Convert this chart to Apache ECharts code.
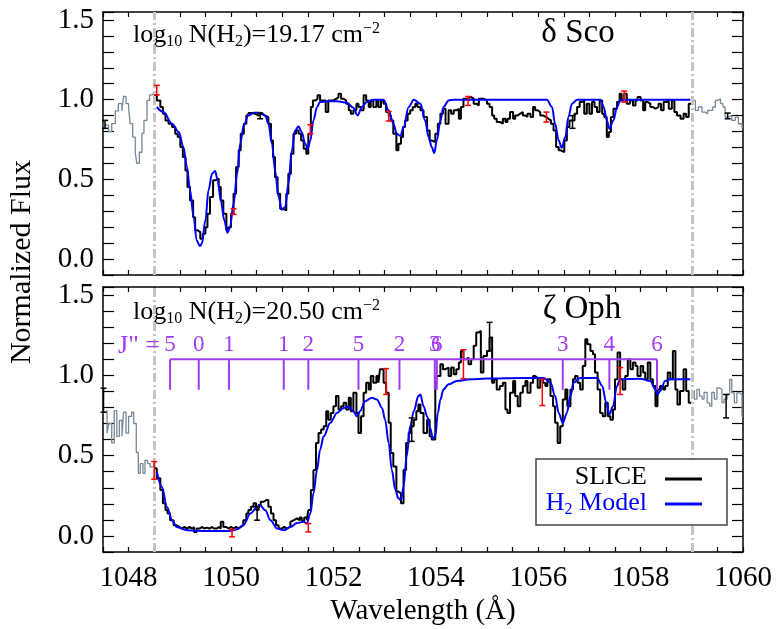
<!DOCTYPE html>
<html><head><meta charset="utf-8">
<script src="https://cdn.jsdelivr.net/npm/echarts@6/dist/echarts.min.js"></script>
<style>html,body{margin:0;padding:0;background:#fff}#c{width:776px;height:629px}</style>
</head><body><div id="c"></div>
<script>
const FONT = '"Liberation Serif","Times New Roman",serif';
// axis ranges and tick labels
const xMin = 1047.5, xMax = 1060, xStep = 0.5;
const yMin = -0.1, yMax = 1.55, yStep = 0.1;
const xTickLabels = [1048, 1050, 1052, 1054, 1056, 1058, 1060];
const yTickLabels = [0.0, 0.5, 1.0, 1.5];
const fitLimits = [1048.5, 1059.0];

// ---------- delta Sco (top) ----------
// histogram bins: [left edge wavelength, flux]; last bin ends at given edge
const topGrayLeft = [[1047.50,0.84],[1047.61,0.80],[1047.67,0.85],[1047.74,0.93],[1047.80,0.975],[1047.87,0.93],[1047.90,1.02],[1047.95,0.975],[1048.00,0.95],[1048.03,0.85],[1048.08,0.765],[1048.13,0.67],[1048.16,0.60],[1048.21,0.67],[1048.26,0.79],[1048.30,0.87],[1048.36,0.995],[1048.41,1.03],[1048.46,1.04]];
const topGrayLeftEnd = 1048.50;
const topSlice = [[1048.50,1.03],[1048.55,0.995],[1048.62,0.954],[1048.67,0.912],[1048.72,0.87],[1048.78,0.849],[1048.85,0.828],[1048.91,0.786],[1048.96,0.765],[1049.01,0.703],[1049.06,0.64],[1049.11,0.556],[1049.15,0.452],[1049.20,0.368],[1049.26,0.263],[1049.30,0.18],[1049.35,0.169],[1049.40,0.128],[1049.45,0.159],[1049.50,0.20],[1049.54,0.284],[1049.59,0.389],[1049.65,0.494],[1049.69,0.504],[1049.76,0.452],[1049.80,0.368],[1049.85,0.284],[1049.91,0.18],[1049.95,0.20],[1050.00,0.284],[1050.05,0.41],[1050.10,0.577],[1050.15,0.682],[1050.19,0.786],[1050.25,0.849],[1050.30,0.90],[1050.34,0.916],[1050.41,0.912],[1050.47,0.90],[1050.54,0.912],[1050.60,0.90],[1050.67,0.891],[1050.73,0.849],[1050.78,0.744],[1050.82,0.64],[1050.86,0.514],[1050.91,0.41],[1050.96,0.316],[1051.01,0.305],[1051.08,0.41],[1051.12,0.535],[1051.17,0.661],[1051.22,0.786],[1051.27,0.807],[1051.32,0.786],[1051.37,0.744],[1051.42,0.692],[1051.47,0.661],[1051.51,0.786],[1051.56,0.954],[1051.60,0.995],[1051.65,1.006],[1051.69,1.027],[1051.74,0.995],[1051.79,0.995],[1051.85,0.922],[1051.90,0.995],[1051.95,0.995],[1052.00,1.006],[1052.06,1.016],[1052.10,1.037],[1052.15,1.006],[1052.20,0.995],[1052.25,0.975],[1052.30,0.933],[1052.34,0.912],[1052.39,0.933],[1052.45,0.975],[1052.49,0.954],[1052.54,0.933],[1052.59,1.027],[1052.64,0.995],[1052.69,0.954],[1052.73,0.995],[1052.78,0.954],[1052.84,0.995],[1052.88,0.954],[1052.93,0.995],[1052.98,0.975],[1053.03,0.922],[1053.08,0.901],[1053.12,0.87],[1053.17,0.786],[1053.23,0.682],[1053.27,0.724],[1053.32,0.765],[1053.36,0.828],[1053.40,0.87],[1053.45,0.912],[1053.50,0.933],[1053.55,0.954],[1053.60,0.975],[1053.64,0.954],[1053.70,0.933],[1053.76,0.891],[1053.83,0.807],[1053.88,0.744],[1053.92,0.734],[1053.99,0.786],[1054.04,0.849],[1054.09,0.912],[1054.14,0.943],[1054.19,0.849],[1054.25,0.933],[1054.30,0.912],[1054.35,0.933],[1054.40,0.943],[1054.45,0.88],[1054.49,0.954],[1054.54,1.006],[1054.60,0.995],[1054.64,1.016],[1054.69,1.006],[1054.74,0.975],[1054.79,0.964],[1054.84,1.006],[1054.88,1.006],[1054.93,0.995],[1055.00,0.975],[1055.05,0.954],[1055.10,0.901],[1055.14,0.88],[1055.19,0.86],[1055.25,0.849],[1055.31,0.88],[1055.36,0.86],[1055.40,0.88],[1055.45,0.922],[1055.51,0.88],[1055.55,0.901],[1055.60,0.912],[1055.65,0.922],[1055.70,0.901],[1055.75,0.891],[1055.79,0.912],[1055.85,0.891],[1055.90,0.954],[1055.94,0.933],[1055.99,0.922],[1056.04,0.901],[1056.09,0.891],[1056.16,0.88],[1056.20,0.87],[1056.25,0.849],[1056.30,0.807],[1056.35,0.703],[1056.40,0.682],[1056.44,0.671],[1056.51,0.744],[1056.56,0.828],[1056.61,0.87],[1056.66,0.87],[1056.71,0.912],[1056.76,0.954],[1056.81,0.985],[1056.86,0.995],[1056.90,0.912],[1056.95,0.975],[1057.00,0.912],[1057.05,0.985],[1057.10,0.954],[1057.15,0.922],[1057.20,0.995],[1057.25,0.912],[1057.29,0.891],[1057.34,0.765],[1057.38,0.797],[1057.42,0.891],[1057.47,0.943],[1057.54,0.985],[1057.59,1.037],[1057.63,0.995],[1057.68,1.037],[1057.73,0.975],[1057.79,0.995],[1057.85,0.964],[1057.90,0.995],[1057.94,1.016],[1058.00,0.995],[1058.05,0.933],[1058.09,0.985],[1058.14,0.975],[1058.19,0.954],[1058.24,0.943],[1058.29,0.954],[1058.35,0.975],[1058.40,0.933],[1058.45,0.985],[1058.50,0.995],[1058.55,0.943],[1058.61,0.995],[1058.66,0.922],[1058.71,0.901],[1058.78,0.88],[1058.84,0.912],[1058.89,0.891],[1058.94,0.975]];
const topSliceEnd = 1059.00;
const topGrayRight = [[1059.00,0.995],[1059.07,0.933],[1059.13,0.954],[1059.20,0.922],[1059.26,0.912],[1059.31,0.933],[1059.36,0.933],[1059.41,0.954],[1059.46,0.995],[1059.51,1.006],[1059.56,0.975],[1059.61,0.954],[1059.65,0.891],[1059.72,0.901],[1059.78,0.87],[1059.85,0.891],[1059.91,0.849],[1059.98,0.828]];
const topGrayRightEnd = 1060.0;
const topModel = [[1048.55,0.954],[1048.68,0.922],[1048.85,0.849],[1048.98,0.797],[1049.07,0.703],[1049.14,0.577],[1049.20,0.431],[1049.27,0.263],[1049.33,0.117],[1049.39,0.082],[1049.43,0.096],[1049.50,0.243],[1049.56,0.431],[1049.63,0.535],[1049.69,0.552],[1049.74,0.494],[1049.80,0.368],[1049.87,0.243],[1049.93,0.165],[1049.98,0.20],[1050.05,0.347],[1050.12,0.535],[1050.18,0.724],[1050.25,0.839],[1050.34,0.90],[1050.44,0.918],[1050.57,0.918],[1050.67,0.90],[1050.73,0.849],[1050.80,0.724],[1050.86,0.556],[1050.93,0.389],[1050.99,0.309],[1051.06,0.326],[1051.12,0.473],[1051.19,0.682],[1051.25,0.807],[1051.32,0.832],[1051.38,0.797],[1051.45,0.724],[1051.50,0.692],[1051.55,0.744],[1051.61,0.87],[1051.68,0.954],[1051.74,0.985],[1051.87,0.99],[1052.07,0.99],[1052.26,0.98],[1052.39,0.95],[1052.47,0.901],[1052.56,0.954],[1052.65,0.985],[1052.78,1.0],[1052.98,1.0],[1053.08,0.933],[1053.17,0.849],[1053.24,0.786],[1053.31,0.772],[1053.37,0.828],[1053.47,0.954],[1053.57,1.0],[1053.70,0.975],[1053.79,0.87],[1053.86,0.765],[1053.92,0.703],[1053.97,0.665],[1054.02,0.744],[1054.09,0.87],[1054.15,0.954],[1054.25,0.995],[1054.35,1.0],[1056.17,1.0],[1056.27,0.954],[1056.33,0.849],[1056.40,0.744],[1056.46,0.698],[1056.53,0.765],[1056.59,0.891],[1056.66,0.975],[1056.76,1.0],[1057.21,1.0],[1057.28,0.954],[1057.34,0.87],[1057.39,0.818],[1057.47,0.87],[1057.54,0.954],[1057.60,0.995],[1057.73,1.0],[1058.97,1.0]];
const topRedErr = [[1048.55,1.03,1.09],[1050.05,0.28,0.316],[1051.55,0.786,0.843],[1053.08,0.866,0.926],[1054.63,0.964,1.02],[1056.16,0.86,0.922],[1057.68,0.985,1.054]];
const topBlackErr = [[1047.54,0.82,0.87],[1050.57,0.88,0.916],[1056.67,0.82,0.90],[1059.70,0.88,0.916]];

// ---------- zeta Oph (bottom) ----------
const botGrayLeft = [[1047.50,0.77],[1047.54,0.78],[1047.58,0.64],[1047.61,0.70],[1047.67,0.58],[1047.72,0.78],[1047.77,0.62],[1047.82,0.72],[1047.87,0.62],[1047.90,0.77],[1047.95,0.64],[1048.00,0.745],[1048.06,0.77],[1048.10,0.70],[1048.15,0.52],[1048.19,0.39],[1048.23,0.45],[1048.28,0.39],[1048.32,0.47],[1048.37,0.45],[1048.42,0.43]];
const botGrayLeftEnd = 1048.50;
const botSlice = [[1048.50,0.422],[1048.55,0.359],[1048.62,0.286],[1048.67,0.203],[1048.72,0.161],[1048.76,0.14],[1048.81,0.098],[1048.88,0.067],[1048.93,0.056],[1048.99,0.046],[1049.04,0.056],[1049.09,0.046],[1049.14,0.056],[1049.19,0.046],[1049.24,0.056],[1049.28,0.025],[1049.33,0.046],[1049.39,0.056],[1049.43,0.046],[1049.48,0.052],[1049.53,0.046],[1049.58,0.056],[1049.63,0.046],[1049.67,0.046],[1049.72,0.056],[1049.76,0.046],[1049.80,0.088],[1049.85,0.056],[1049.91,0.046],[1049.95,0.056],[1050.00,0.046],[1050.05,0.056],[1050.10,0.046],[1050.15,0.056],[1050.19,0.067],[1050.24,0.098],[1050.30,0.14],[1050.34,0.161],[1050.39,0.182],[1050.44,0.203],[1050.49,0.161],[1050.54,0.192],[1050.58,0.213],[1050.64,0.223],[1050.69,0.223],[1050.73,0.182],[1050.78,0.14],[1050.83,0.098],[1050.88,0.067],[1050.93,0.046],[1050.99,0.056],[1051.04,0.046],[1051.09,0.056],[1051.16,0.088],[1051.19,0.098],[1051.23,0.109],[1051.29,0.098],[1051.34,0.115],[1051.38,0.094],[1051.43,0.115],[1051.48,0.098],[1051.51,0.161],[1051.56,0.286],[1051.61,0.411],[1051.66,0.578],[1051.71,0.641],[1051.76,0.662],[1051.81,0.683],[1051.86,0.777],[1051.90,0.724],[1051.95,0.766],[1052.00,0.808],[1052.05,0.871],[1052.10,0.787],[1052.15,0.808],[1052.20,0.829],[1052.25,0.787],[1052.30,0.86],[1052.34,0.777],[1052.39,0.891],[1052.45,0.766],[1052.49,0.641],[1052.54,0.745],[1052.59,0.891],[1052.64,0.954],[1052.69,0.912],[1052.73,0.996],[1052.78,0.954],[1052.84,0.996],[1052.88,0.954],[1052.91,1.038],[1052.98,0.954],[1053.03,0.891],[1053.08,0.704],[1053.12,0.516],[1053.17,0.432],[1053.23,0.276],[1053.27,0.265],[1053.32,0.203],[1053.37,0.411],[1053.42,0.578],[1053.47,0.641],[1053.51,0.683],[1053.57,0.724],[1053.62,0.777],[1053.66,0.818],[1053.70,0.766],[1053.76,0.641],[1053.83,0.724],[1053.88,0.62],[1053.92,0.60],[1053.99,0.912],[1054.02,0.996],[1054.09,1.069],[1054.14,1.038],[1054.19,1.048],[1054.25,0.996],[1054.30,1.048],[1054.35,1.006],[1054.40,1.038],[1054.45,1.08],[1054.49,1.152],[1054.54,1.10],[1054.60,1.111],[1054.64,1.069],[1054.69,1.10],[1054.74,1.184],[1054.79,1.267],[1054.84,1.278],[1054.88,1.017],[1054.93,1.121],[1055.00,1.152],[1055.05,1.236],[1055.10,0.954],[1055.14,0.975],[1055.19,0.912],[1055.25,0.933],[1055.31,0.954],[1055.36,0.787],[1055.40,0.766],[1055.45,0.891],[1055.51,0.965],[1055.55,0.871],[1055.60,0.808],[1055.65,0.891],[1055.70,0.933],[1055.75,0.965],[1055.79,0.891],[1055.85,0.954],[1055.90,0.996],[1055.94,0.985],[1055.99,0.922],[1056.04,0.975],[1056.09,0.954],[1056.14,0.933],[1056.18,0.975],[1056.24,0.871],[1056.29,0.808],[1056.33,0.704],[1056.38,0.578],[1056.43,0.683],[1056.48,0.85],[1056.53,0.912],[1056.57,0.808],[1056.63,0.912],[1056.68,0.975],[1056.72,0.996],[1056.77,0.954],[1056.82,0.912],[1056.87,1.058],[1056.92,1.225],[1056.96,1.194],[1057.02,1.152],[1057.07,1.132],[1057.11,1.017],[1057.16,0.912],[1057.21,0.766],[1057.26,0.745],[1057.31,0.829],[1057.36,0.745],[1057.41,0.724],[1057.46,0.787],[1057.50,0.975],[1057.55,1.142],[1057.60,0.975],[1057.65,0.912],[1057.70,0.996],[1057.75,1.10],[1057.80,1.038],[1057.85,1.08],[1057.90,1.058],[1057.94,0.996],[1058.00,1.058],[1058.05,1.017],[1058.09,0.975],[1058.14,1.08],[1058.19,0.975],[1058.24,0.933],[1058.29,0.808],[1058.33,0.912],[1058.38,0.933],[1058.44,0.912],[1058.48,0.933],[1058.53,1.017],[1058.58,0.975],[1058.63,1.152],[1058.68,0.912],[1058.72,0.818],[1058.77,0.902],[1058.84,1.038],[1058.89,0.902],[1058.94,0.829]];
const botSliceEnd = 1059.00;
const botGrayRight = [[1059.00,0.902],[1059.05,0.852],[1059.10,0.912],[1059.15,0.87],[1059.20,0.852],[1059.24,0.894],[1059.30,0.829],[1059.35,0.808],[1059.39,0.894],[1059.44,0.852],[1059.49,0.922],[1059.54,0.912],[1059.59,0.829],[1059.63,0.852],[1059.69,0.881],[1059.74,0.975],[1059.78,0.891],[1059.83,0.829],[1059.88,0.891],[1059.93,0.881],[1059.98,0.745]];
const botGrayRightEnd = 1060.0;
const botModel = [[1048.55,0.40],[1048.65,0.307],[1048.75,0.18],[1048.85,0.098],[1048.94,0.056],[1049.14,0.035],[1049.53,0.031],[1049.98,0.031],[1050.11,0.040],[1050.24,0.067],[1050.38,0.14],[1050.51,0.18],[1050.57,0.19],[1050.67,0.16],[1050.77,0.098],[1050.90,0.046],[1051.03,0.035],[1051.16,0.056],[1051.29,0.081],[1051.42,0.088],[1051.48,0.077],[1051.55,0.14],[1051.61,0.265],[1051.68,0.411],[1051.74,0.537],[1051.81,0.62],[1051.94,0.704],[1052.07,0.766],[1052.20,0.797],[1052.30,0.804],[1052.39,0.777],[1052.46,0.745],[1052.52,0.777],[1052.62,0.839],[1052.75,0.86],[1052.85,0.85],[1052.95,0.797],[1053.01,0.724],[1053.08,0.578],[1053.14,0.411],[1053.21,0.286],[1053.27,0.234],[1053.32,0.223],[1053.37,0.306],[1053.43,0.495],[1053.50,0.683],[1053.57,0.777],[1053.66,0.871],[1053.70,0.881],[1053.76,0.808],[1053.83,0.745],[1053.89,0.672],[1053.94,0.61],[1053.99,0.62],[1054.04,0.766],[1054.09,0.85],[1054.15,0.912],[1054.25,0.944],[1054.41,0.965],[1054.67,0.975],[1055.00,0.98],[1055.65,0.984],[1056.11,0.984],[1056.24,0.955],[1056.33,0.871],[1056.40,0.766],[1056.48,0.704],[1056.56,0.766],[1056.63,0.871],[1056.69,0.955],[1056.82,0.984],[1057.15,0.984],[1057.25,0.934],[1057.33,0.829],[1057.39,0.756],[1057.46,0.808],[1057.54,0.934],[1057.60,0.975],[1057.99,0.979],[1058.19,0.965],[1058.29,0.912],[1058.33,0.881],[1058.38,0.902],[1058.48,0.965],[1058.58,0.975],[1058.97,0.975]];
const botRedErr = [[1048.50,0.353,0.463],[1050.02,-0.006,0.04],[1051.51,0.025,0.077],[1053.03,0.881,1.042],[1054.54,0.979,1.159],[1056.08,0.812,0.975],[1057.60,0.881,1.048]];
const botBlackErr = [[1047.51,0.77,0.92],[1050.51,0.098,0.182],[1053.53,0.589,0.735],[1055.05,1.152,1.33],[1059.67,0.735,0.881]];

// H2 line identifications (J'')
const jWave = [1048.81, 1049.37, 1049.96, 1051.03, 1051.51, 1052.49, 1053.29, 1053.98, 1054.02, 1056.48, 1057.39, 1058.32];
const jLabel = ['5', '0', '1', '1', '2', '5', '2', '3', '6', '3', '4', '6'];
const jBarY = 1.10, jTickY = 0.91, jLabelY = 1.19;

const PURPLE = '#a03cf0', BLUE = '#0000ff', GRAY = '#778899';

function steps(bins, endEdge) {
  return bins.concat([[endEdge, bins[bins.length - 1][1]]]);
}
function isTickLabel(list, v, tol) { return list.some(t => Math.abs(t - v) < tol); }

function xAx(grid, pos, labels) {
  return {
    type: 'value', gridIndex: grid, position: pos, min: xMin, max: xMax, interval: xStep,
    axisLine: { show: true, onZero: false, lineStyle: { color: '#000', width: 1.5 } },
    axisTick: { show: true, inside: true, length: 5, lineStyle: { color: '#000', width: 1.2 } },
    splitLine: { show: false },
    axisLabel: {
      show: labels, margin: 12, color: '#000', fontFamily: FONT, fontSize: 29,
      formatter: v => isTickLabel(xTickLabels, v, 1e-6) ? String(Math.round(v)) : ''
    }
  };
}
function yAx(grid, pos, labels) {
  return {
    type: 'value', gridIndex: grid, position: pos, min: yMin, max: yMax, interval: yStep,
    axisLine: { show: true, onZero: false, lineStyle: { color: '#000', width: 1.5 } },
    axisTick: { show: true, inside: true, length: 11, lineStyle: { color: '#000', width: 1.2 } },
    splitLine: { show: false },
    axisLabel: {
      show: labels, margin: 9, color: '#000', fontFamily: FONT, fontSize: 29,
      formatter: v => isTickLabel(yTickLabels, v, 1e-6) ? v.toFixed(1) : ''
    }
  };
}

function histSeries(bins, end, xi, yi, color, width, z) {
  return { type: 'line', xAxisIndex: xi, yAxisIndex: yi, data: steps(bins, end), step: 'end',
    showSymbol: false, symbol: 'none', lineStyle: { color: color, width: width }, z: z, silent: true };
}
function modelSeries(data, xi, yi) {
  return { type: 'line', xAxisIndex: xi, yAxisIndex: yi, data: data, smooth: 0.35, smoothMonotone: 'x',
    showSymbol: false, symbol: 'none', lineStyle: { color: BLUE, width: 2 }, z: 4, silent: true };
}
function errSeries(data, xi, yi, color) {
  return { type: 'custom', xAxisIndex: xi, yAxisIndex: yi, data: data, z: 6, silent: true,
    encode: { x: 0, y: [1, 2] },
    renderItem: (params, api) => {
      const x = api.value(0);
      const a = api.coord([x, api.value(1)]), b = api.coord([x, api.value(2)]);
      const st = { stroke: color, lineWidth: 1.5 };
      return { type: 'group', children: [
        { type: 'line', shape: { x1: a[0], y1: a[1], x2: b[0], y2: b[1] }, style: st },
        { type: 'line', shape: { x1: a[0] - 3, y1: a[1], x2: a[0] + 3, y2: a[1] }, style: st },
        { type: 'line', shape: { x1: b[0] - 3, y1: b[1], x2: b[0] + 3, y2: b[1] }, style: st }
      ]};
    } };
}
function limitLines() {
  return { symbol: ['none', 'none'], silent: true, animation: false, label: { show: false },
    lineStyle: { type: [9, 3, 2, 3], color: '#c4c4c4', width: 3 },
    data: fitLimits.map(v => ({ xAxis: v })) };
}

const series = [];
// top panel
series.push(histSeries(topGrayLeft, topGrayLeftEnd, 0, 0, GRAY, 1.3, 2));
series.push(histSeries(topGrayRight, topGrayRightEnd, 0, 0, GRAY, 1.3, 2));
const topMain = histSeries(topSlice, topSliceEnd, 0, 0, '#000', 2, 3);
topMain.markLine = limitLines();
series.push(topMain);
series.push(modelSeries(topModel, 0, 0));
series.push(errSeries(topRedErr, 0, 0, '#ff0000'));
series.push(errSeries(topBlackErr, 0, 0, '#000'));
// bottom panel
series.push(histSeries(botGrayLeft, botGrayLeftEnd, 2, 2, GRAY, 1.3, 2));
series.push(histSeries(botGrayRight, botGrayRightEnd, 2, 2, GRAY, 1.3, 2));
const botMain = histSeries(botSlice, botSliceEnd, 2, 2, '#000', 2, 3);
botMain.markLine = limitLines();
series.push(botMain);
series.push(modelSeries(botModel, 2, 2));
series.push(errSeries(botRedErr, 2, 2, '#ff0000'));
series.push(errSeries(botBlackErr, 2, 2, '#000'));
// J'' bar
series.push({ type: 'line', xAxisIndex: 2, yAxisIndex: 2, data: [[jWave[0], jBarY], [jWave[jWave.length - 1], jBarY]],
  showSymbol: false, symbol: 'none', lineStyle: { color: PURPLE, width: 2 }, z: 7, silent: true });
series.push({ type: 'custom', xAxisIndex: 2, yAxisIndex: 2, z: 7, silent: true,
  data: jWave.map(w => [w, jBarY]), encode: { x: 0, y: 1 },
  renderItem: (params, api) => {
    const w = api.value(0);
    const t = api.coord([w, jBarY]), b = api.coord([w, jTickY]), l = api.coord([w, jLabelY]);
    return { type: 'group', children: [
      { type: 'line', shape: { x1: t[0], y1: t[1], x2: b[0], y2: b[1] }, style: { stroke: PURPLE, lineWidth: 2 } },
      { type: 'text', x: l[0], y: l[1], style: { text: jLabel[params.dataIndex], fill: PURPLE,
        font: '23px ' + FONT, align: 'center', verticalAlign: 'middle' } }
    ]};
  } });

const richLog = (val) => ({
  text: '{a|log}{s|10}{a| N(H}{s|2}{a|)=' + val + ' cm}{p|\u22122}',
  rich: {
    a: { fontSize: 26, fontFamily: FONT, fill: '#000', color: '#000' },
    s: { fontSize: 16, fontFamily: FONT, fill: '#000', color: '#000', padding: [14, 0, 0, 0] },
    p: { fontSize: 16, fontFamily: FONT, fill: '#000', color: '#000', padding: [0, 0, 12, 0] }
  },
  align: 'left', verticalAlign: 'middle'
});

const graphic = [
  { type: 'text', x: 22, y: 262, rotation: Math.PI / 2, style: { text: 'Normalized Flux', font: '30px ' + FONT, fill: '#000', align: 'center', verticalAlign: 'middle' } },
  { type: 'text', x: 423, y: 611, style: { text: 'Wavelength (\u00c5)', font: '29px ' + FONT, fill: '#000', align: 'center', verticalAlign: 'middle' } },
  { type: 'text', x: 133, y: 35, style: richLog('19.17') },
  { type: 'text', x: 133, y: 312, style: richLog('20.50') },
  { type: 'text', x: 578, y: 33, style: { text: '\u03b4 Sco', font: '33px ' + FONT, fill: '#000', align: 'center', verticalAlign: 'middle' } },
  { type: 'text', x: 582, y: 309, style: { text: '\u03b6 Oph', font: '33px ' + FONT, fill: '#000', align: 'center', verticalAlign: 'middle' } },
  { type: 'text', x: 160, y: 346, z: 100, style: { text: 'J" =', font: '26px ' + FONT, fill: PURPLE, align: 'right', verticalAlign: 'middle' } },
  { type: 'rect', z: 100, shape: { x: 536, y: 459, width: 191, height: 66 }, style: { fill: '#fff', stroke: '#444', lineWidth: 1.5 } },
  { type: 'text', z: 101, x: 647, y: 477, style: { text: 'SLICE', font: '26px ' + FONT, fill: '#000', align: 'right', verticalAlign: 'middle' } },
  { type: 'text', z: 101, x: 647, y: 503, style: {
      text: '{a|H}{s|2}{a| Model}', align: 'right', verticalAlign: 'middle',
      rich: { a: { fontSize: 26, fontFamily: FONT, fill: BLUE, color: BLUE },
              s: { fontSize: 16, fontFamily: FONT, fill: BLUE, color: BLUE, padding: [14, 0, 0, 0] } } } },
  { type: 'line', z: 101, shape: { x1: 665, y1: 479, x2: 702, y2: 479 }, style: { stroke: '#000', lineWidth: 3 } },
  { type: 'line', z: 101, shape: { x1: 665, y1: 504, x2: 702, y2: 504 }, style: { stroke: BLUE, lineWidth: 3 } }
];

const chart = echarts.init(document.getElementById('c'), null, { renderer: 'canvas', width: 776, height: 629 });
chart.setOption({
  animation: false,
  backgroundColor: '#fff',
  grid: [
    { left: 103, top: 12, width: 640, height: 263 },
    { left: 103, top: 287, width: 640, height: 265 }
  ],
  xAxis: [xAx(0, 'bottom', false), xAx(0, 'top', false), xAx(1, 'bottom', true), xAx(1, 'top', false)],
  yAxis: [yAx(0, 'left', true), yAx(0, 'right', false), yAx(1, 'left', true), yAx(1, 'right', false)],
  series: series,
  graphic: graphic
});
</script>
</body></html>
